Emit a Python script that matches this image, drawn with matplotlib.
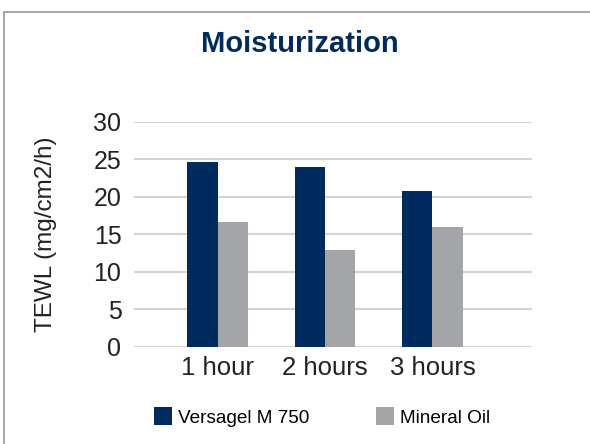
import numpy as np
import matplotlib.pyplot as plt

categories = ['1 hour', '2 hours', '3 hours']
versagel = [24.6, 24.0, 20.8]
mineral_oil = [16.6, 12.9, 16.0]
series_names = ['Versagel M 750', 'Mineral Oil']
yticks = [0, 5, 10, 15, 20, 25, 30]

navy = '#002B5E'
grey = '#A4A5A8'

plt.rcParams['font.family'] = ['Liberation Sans', 'DejaVu Sans']

fig = plt.figure(figsize=(5.9, 4.44), dpi=100)
ax = fig.add_axes([0.2271, 0.2191, 0.6746, 0.5066])

ind = np.arange(len(categories))
w = 0.28
ax.bar(ind - w/2, versagel, w, color=navy, label=series_names[0], zorder=3)
ax.bar(ind + w/2, mineral_oil, w, color=grey, label=series_names[1], zorder=3)

ax.set_xlim(-0.777, 2.926)
ax.set_ylim(0, 30)
ax.set_yticks(yticks)
ax.set_xticks(ind)
ax.set_xticklabels(categories, fontsize=18.5, color='#222222')
ax.tick_params(axis='y', labelsize=18, length=0, pad=9, colors='#222222')
ax.tick_params(axis='x', length=0, pad=7)
ax.yaxis.grid(True, color='#D4D4D4', linewidth=1.5, zorder=0)
for s in ax.spines.values():
    s.set_visible(False)

ax.set_ylabel('TEWL (mg/cm2/h)', fontsize=17.5, color='#222222', labelpad=26)

fig.text(0.508, 0.90, 'Moisturization', ha='center', va='center', fontsize=21,
         fontweight='heavy', color=navy)

leg = fig.legend(loc='center', bbox_to_anchor=(0.546, 0.061), ncol=2, frameon=False,
                 fontsize=13.7, handlelength=0.95, handleheight=1.05, columnspacing=3.5,
                 handletextpad=0.3)

# frame lines on top and left of the picture
fig.add_artist(plt.Line2D([0.007, 0.007], [0, 0.973], color='#A8A8A8', linewidth=1.5))
fig.add_artist(plt.Line2D([0.007, 1.0], [0.973, 0.973], color='#A8A8A8', linewidth=1.5))

fig.savefig('out.png', dpi=100)
